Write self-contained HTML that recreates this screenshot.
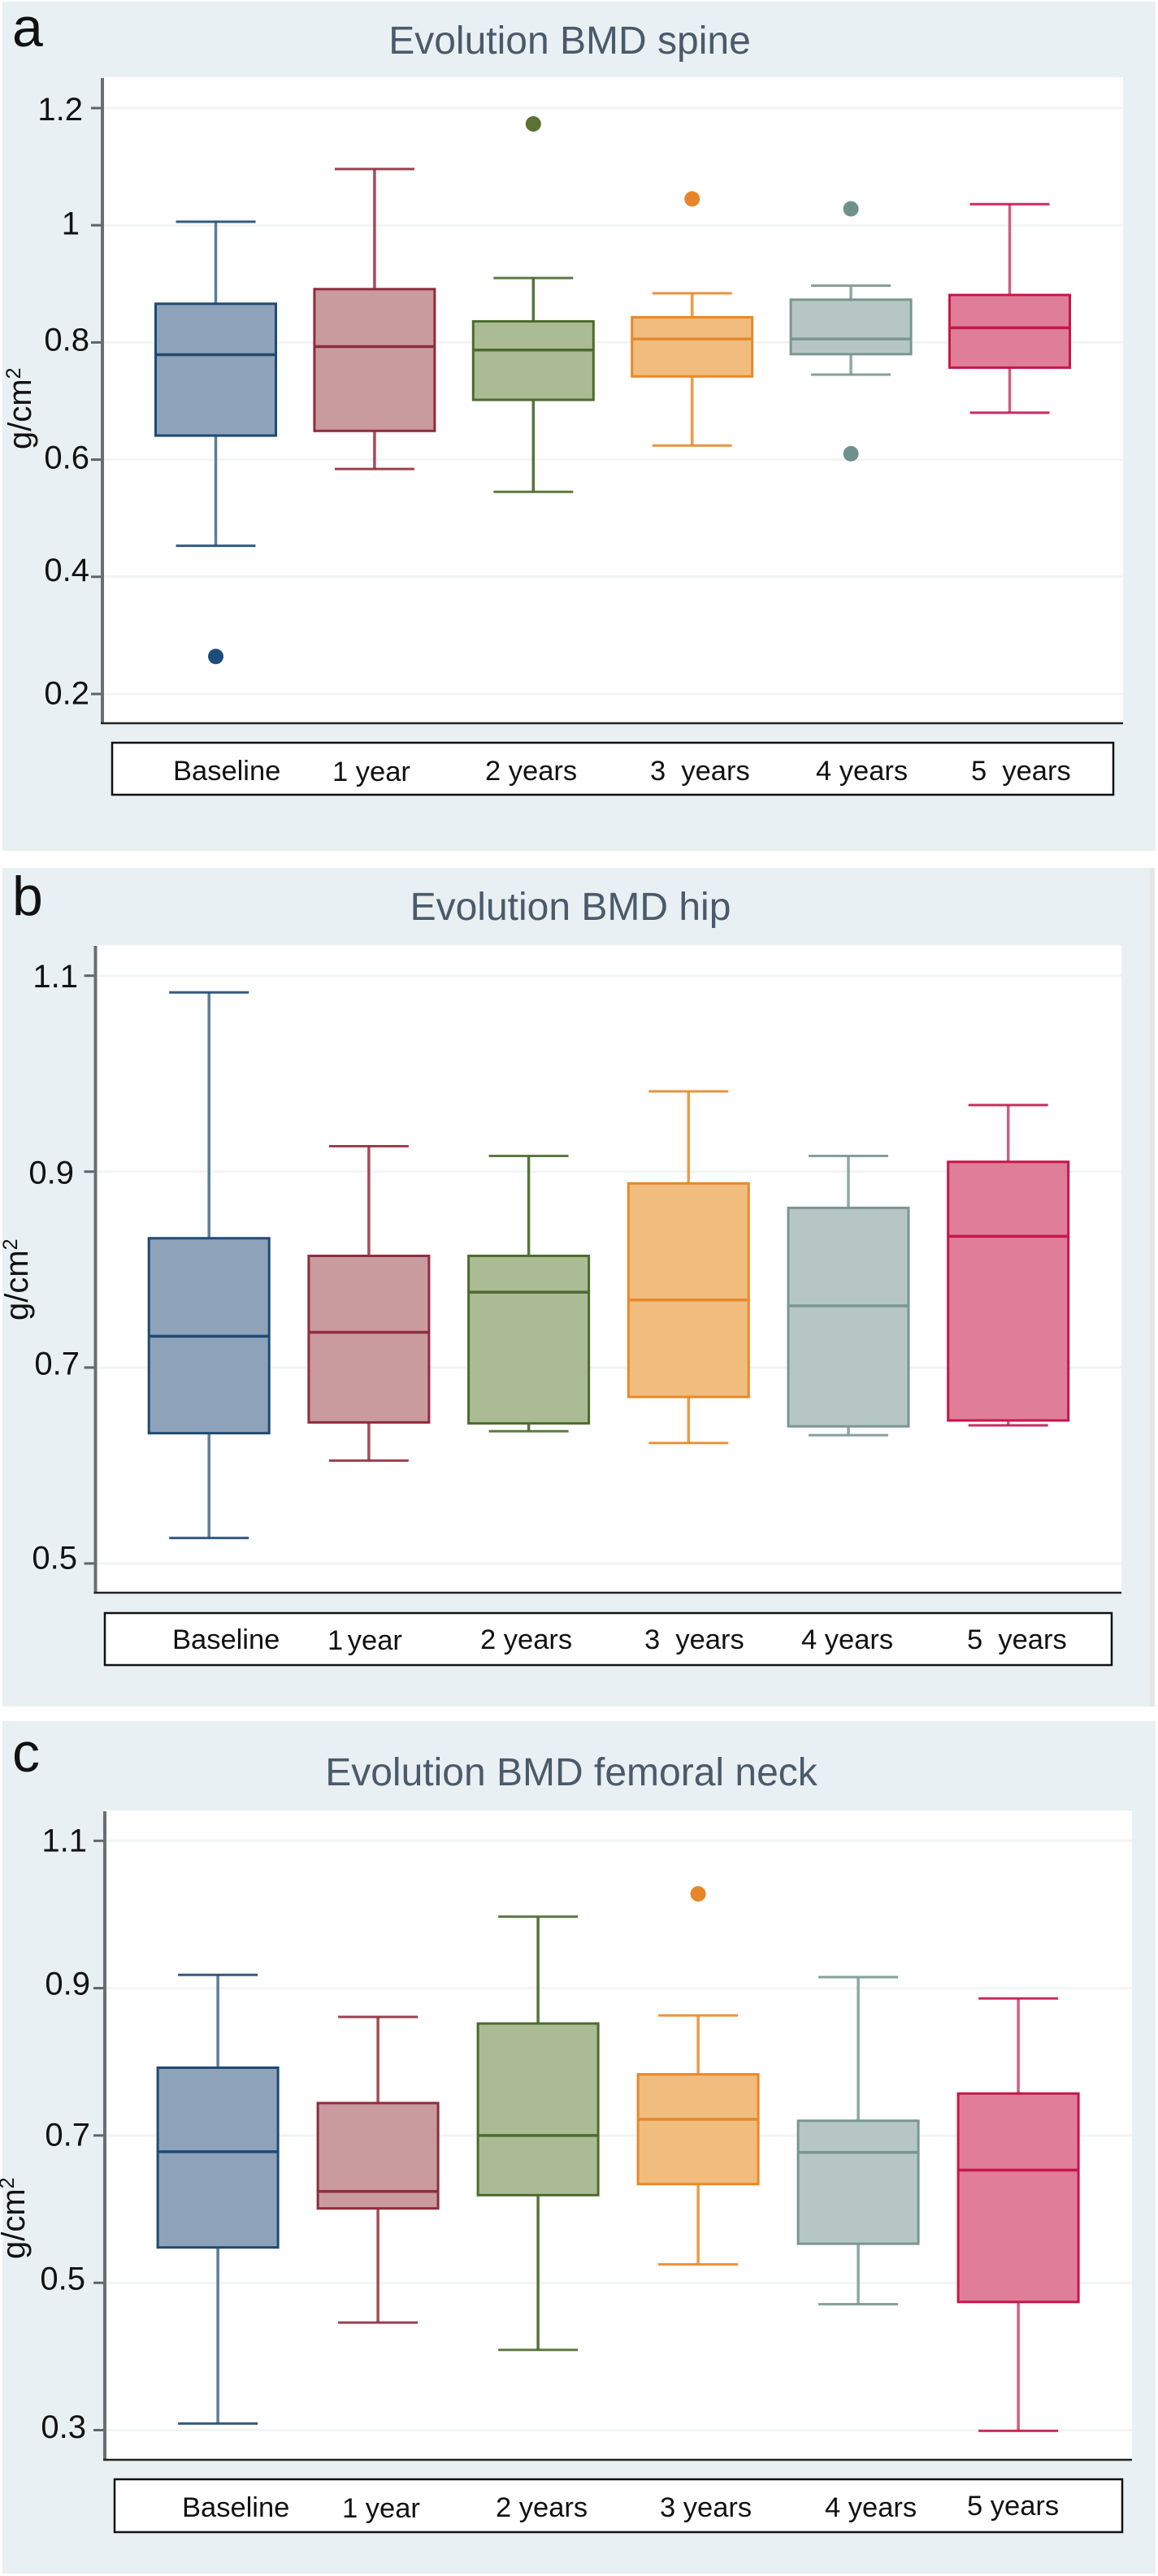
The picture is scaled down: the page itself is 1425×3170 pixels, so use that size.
<!DOCTYPE html>
<html lang="en">
<head>
<meta charset="utf-8">
<title>Evolution of BMD</title>
<style>
  html, body { margin: 0; padding: 0; background: #fff; }
  svg { display: block; }
  text { font-family: "Liberation Sans", Arial, sans-serif; }
  .panel-letter { font-size: 68px; fill: #111; }
  .chart-title { font-size: 48px; fill: #4b5a6a; text-anchor: middle; }
  .legend-label { font-size: 34.5px; fill: #111; white-space: pre; }
  .y-title { font-size: 40px; fill: #111; }
  .y-title tspan { font-size: 25px; }
  .tick-label { font-size: 40px; fill: #111; text-anchor: end; }
</style>
</head>
<body>
<svg id="figure" width="1425" height="3170" viewBox="0 0 1425 3170" xmlns="http://www.w3.org/2000/svg">
  <rect x="0" y="0" width="1425" height="3170" fill="#ffffff"/>

  <!-- Panel a -->
  <g id="panel-a">
    <rect x="3" y="2" width="1419" height="1045" fill="#e9f0f3"/>
    <rect x="128" y="95" width="1254" height="794" fill="#ffffff"/>
    <text class="panel-letter" x="15" y="57">a</text>
    <text class="chart-title" x="701" y="66">Evolution BMD spine</text>
    <text class="y-title" transform="translate(38,553) rotate(-90)">g/cm<tspan dy="-13">2</tspan></text>
    <g id="marks-a"></g>
    <rect x="138" y="914" width="1232" height="64" fill="#ffffff" stroke="#111" stroke-width="2.5"/>
    <text class="legend-label" x="213" y="960">Baseline</text>
    <text class="legend-label" x="409" y="961">1 year</text>
    <text class="legend-label" x="597" y="960">2 years</text>
    <text class="legend-label" x="800" y="960">3  years</text>
    <text class="legend-label" x="1004" y="960">4 years</text>
    <text class="legend-label" x="1195" y="960">5  years</text>
  </g>

  <!-- Panel b -->
  <g id="panel-b">
    <rect x="1415" y="1068" width="6" height="1032" fill="#e3e5e6"/>
    <rect x="3" y="1068" width="1412" height="1032" fill="#e9f0f3"/>
    <rect x="119" y="1163" width="1261" height="796" fill="#ffffff"/>
    <text class="panel-letter" x="15" y="1126">b</text>
    <text class="chart-title" x="702" y="1132">Evolution BMD hip</text>
    <text class="y-title" transform="translate(34,1625) rotate(-90)">g/cm<tspan dy="-13">2</tspan></text>
    <g id="marks-b"></g>
    <rect x="129" y="1985" width="1239" height="64" fill="#ffffff" stroke="#111" stroke-width="2.5"/>
    <text class="legend-label" x="212" y="2029">Baseline</text>
    <text class="legend-label" x="403" y="2030">1<tspan dx="-4"> </tspan>year</text>
    <text class="legend-label" x="591" y="2029">2 years</text>
    <text class="legend-label" x="793" y="2029">3  years</text>
    <text class="legend-label" x="986" y="2029">4 years</text>
    <text class="legend-label" x="1190" y="2029">5  years</text>
  </g>

  <!-- Panel c -->
  <g id="panel-c">
    <rect x="3" y="2118" width="1419" height="1049" fill="#e9f0f3"/>
    <rect x="130" y="2228" width="1263" height="799" fill="#ffffff"/>
    <text class="panel-letter" x="15" y="2180">c</text>
    <text class="chart-title" x="703" y="2197">Evolution BMD femoral neck</text>
    <text class="y-title" transform="translate(30,2780) rotate(-90)">g/cm<tspan dy="-13">2</tspan></text>
    <g id="marks-c"></g>
    <rect x="141" y="3051" width="1240" height="65" fill="#ffffff" stroke="#111" stroke-width="2.5"/>
    <text class="legend-label" x="224" y="3097">Baseline</text>
    <text class="legend-label" x="421" y="3098">1 year</text>
    <text class="legend-label" x="610" y="3097">2 years</text>
    <text class="legend-label" x="812" y="3097">3 years</text>
    <text class="legend-label" x="1015" y="3097">4 years</text>
    <text class="legend-label" x="1190" y="3095">5 years</text>
  </g>
</svg>

<script>
// ---- Data ----
const categories = ['Baseline', '1 year', '2 years', '3 years', '4 years', '5 years'];

const spineTicks = [1.2, 1, 0.8, 0.6, 0.4, 0.2];
const spineTickLabels = ['1.2', '1', '0.8', '0.6', '0.4', '0.2'];
const spineWhiskerHigh = [1.006, 1.096, 0.910, 0.884, 0.897, 1.036];
const spineQ3 = [0.866, 0.891, 0.836, 0.843, 0.873, 0.881];
const spineMedian = [0.779, 0.793, 0.787, 0.806, 0.806, 0.825];
const spineQ1 = [0.641, 0.649, 0.702, 0.742, 0.780, 0.757];
const spineWhiskerLow = [0.453, 0.584, 0.545, 0.624, 0.745, 0.680];
const spineOutliers = [[0.264], [], [1.173], [1.045], [1.028, 0.610], []];

const hipTicks = [1.1, 0.9, 0.7, 0.5];
const hipTickLabels = ['1.1', '0.9', '0.7', '0.5'];
const hipWhiskerHigh = [1.083, 0.926, 0.916, 0.982, 0.916, 0.968];
const hipQ3 = [0.832, 0.814, 0.814, 0.888, 0.863, 0.910];
const hipMedian = [0.732, 0.736, 0.777, 0.769, 0.763, 0.834];
const hipQ1 = [0.633, 0.644, 0.643, 0.670, 0.640, 0.646];
const hipWhiskerLow = [0.526, 0.605, 0.635, 0.623, 0.631, 0.641];
const hipOutliers = [[], [], [], [], [], []];

const neckTicks = [1.1, 0.9, 0.7, 0.5, 0.3];
const neckTickLabels = ['1.1', '0.9', '0.7', '0.5', '0.3'];
const neckWhiskerHigh = [0.918, 0.861, 0.997, 0.863, 0.915, 0.886];
const neckQ3 = [0.792, 0.744, 0.852, 0.783, 0.720, 0.757];
const neckMedian = [0.678, 0.624, 0.700, 0.722, 0.677, 0.653];
const neckQ1 = [0.548, 0.601, 0.619, 0.634, 0.553, 0.474];
const neckWhiskerLow = [0.309, 0.446, 0.409, 0.525, 0.471, 0.299];
const neckOutliers = [[], [], [], [1.028], [], []];

// ---- Styling per category ----
const fills = ['#8ea3b9', '#c99a9e', '#abbc94', '#f0bd7f', '#b6c7c3', '#e07e99'];
const strokes = ['#1f4a73', '#8f2d3d', '#4d6b2f', '#e8882a', '#7a9690', '#c4174b'];
const whiskerColors = ['#5c7c9c', '#a64a5a', '#58743a', '#ee9a45', '#8fa8a2', '#cf5f80'];
const dotColors = ['#1d4d7c', '#8f2d3d', '#5a7233', '#e6852a', '#6f918c', '#c4174b'];

// ---- Layout per panel (pixel placement only, separate from the data) ----
const SVG_NS = 'http://www.w3.org/2000/svg';
const panelLayouts = [
  { key: 'spine', group: 'marks-a', high: spineWhiskerHigh, q3: spineQ3, med: spineMedian, q1: spineQ1, low: spineWhiskerLow, out: spineOutliers,
    ticks: spineTicks, labels: spineTickLabels,
    v0: 1.2, y0: 133, v1: 0.2, y1: 854, x0: 265.5, step: 195.4, axisX: 126, right: 1382, top: 96, bottom: 890,
    labelEnd: [102, 98, 110, 110, 110, 110], labelDrop: [15, 11.5, 10, 11, 5, 12.5] },
  { key: 'hip', group: 'marks-b', high: hipWhiskerHigh, q3: hipQ3, med: hipMedian, q1: hipQ1, low: hipWhiskerLow, out: hipOutliers,
    ticks: hipTicks, labels: hipTickLabels,
    v0: 1.1, y0: 1200.7, v1: 0.5, y1: 1924, x0: 257.2, step: 196.7, axisX: 117.5, right: 1380, top: 1164, bottom: 1960,
    labelEnd: [96, 91, 98, 95], labelDrop: [14.5, 14.5, 8.5, 6.5] },
  { key: 'femoral-neck', group: 'marks-c', high: neckWhiskerHigh, q3: neckQ3, med: neckMedian, q1: neckQ1, low: neckWhiskerLow, out: neckOutliers,
    ticks: neckTicks, labels: neckTickLabels,
    v0: 1.1, y0: 2265.3, v1: 0.3, y1: 2990.5, x0: 268.1, step: 197, axisX: 129, right: 1393, top: 2229, bottom: 3027,
    labelEnd: [107, 111, 111, 105, 106], labelDrop: [13, 8, 12.5, 8.5, 9.5] }
];

function make(tag, attrs, parent) {
  const el = document.createElementNS(SVG_NS, tag);
  for (const k in attrs) el.setAttribute(k, attrs[k]);
  parent.appendChild(el);
  return el;
}

panelLayouts.forEach(function (p) {
  const g = document.getElementById(p.group);
  const yScale = function (v) { return p.y0 + (p.v0 - v) * (p.y1 - p.y0) / (p.v0 - p.v1); };
  const xScale = function (i) { return p.x0 + i * p.step; };

  p.ticks.forEach(function (t, i) {
    const y = yScale(t);
    const grid = make('line', { x1: p.axisX + 2, x2: p.right, y1: y, y2: y, stroke: '#f2f5f5', 'stroke-width': 3 }, g);
    
    
    const tick = make('line', { x1: p.axisX - 14, x2: p.axisX, y1: y, y2: y, stroke: '#5f6468', 'stroke-width': 3 }, g);
    
    
    const label = make('text', { class: 'tick-label', x: p.labelEnd[i], y: y + p.labelDrop[i] }, g);
    label.textContent = p.labels[i];
    
    
  });

  const yAxis = make('line', { x1: p.axisX, x2: p.axisX, y1: p.top, y2: p.bottom, stroke: '#6a6e72', 'stroke-width': 4 }, g);
  
  
  const xAxis = make('line', { x1: p.axisX - 2, x2: p.right, y1: p.bottom, y2: p.bottom, stroke: '#222', 'stroke-width': 2.5 }, g);
  
  

  categories.forEach(function (cat, i) {
    const cx = xScale(i);
    const boxHalf = 74;
    const capHalf = 49;
    const slug = cat.toLowerCase().replace(' ', '-');

    const whisker = make('path', {
      d: 'M' + cx + ' ' + yScale(p.high[i]) + 'V' + yScale(p.q3[i]) + 'M' + cx + ' ' + yScale(p.q1[i]) + 'V' + yScale(p.low[i]),
      stroke: whiskerColors[i], 'stroke-width': 3.5, fill: 'none'
    }, g);
    
    

    [p.high[i], p.low[i]].forEach(function (v) {
      const cap = make('line', { x1: cx - capHalf, x2: cx + capHalf, y1: yScale(v), y2: yScale(v), stroke: strokes[i], 'stroke-width': 3, opacity: 0.9 }, g);
      
      
    });

    const box = make('rect', {
      x: cx - boxHalf, y: yScale(p.q3[i]), width: boxHalf * 2, height: yScale(p.q1[i]) - yScale(p.q3[i]),
      fill: fills[i], stroke: strokes[i], 'stroke-width': 3
    }, g);
    
    

    const median = make('line', { x1: cx - boxHalf, x2: cx + boxHalf, y1: yScale(p.med[i]), y2: yScale(p.med[i]), stroke: strokes[i], 'stroke-width': 3.5 }, g);
    
    

    p.out[i].forEach(function (v) {
      const dot = make('circle', { cx: cx, cy: yScale(v), r: 9.5, fill: dotColors[i] }, g);
      
      
    });
  });
});
</script>
</body>
</html>
